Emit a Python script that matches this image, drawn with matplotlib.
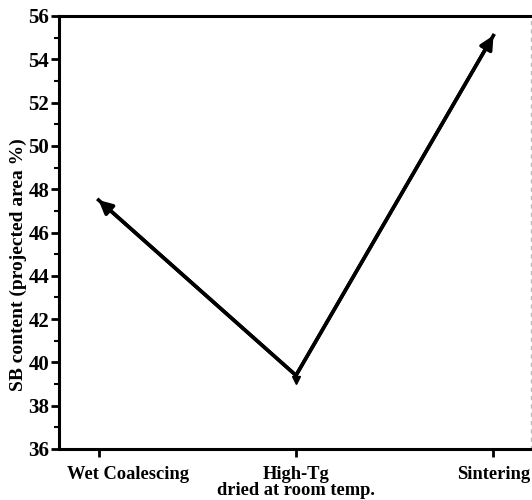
import numpy as np
import matplotlib.pyplot as plt
from matplotlib.ticker import MultipleLocator

categories = ['Wet Coalescing', 'High-Tg\ndried at room temp.', 'Sintering']
sb_content = [47.5, 39.4, 55.1]

plt.rcParams['font.family'] = ['Liberation Serif', 'DejaVu Serif']
plt.rcParams['font.weight'] = 'bold'

fig = plt.figure(figsize=(5.32, 5.0), dpi=100)
ax = fig.add_axes([0.111, 0.102, 0.887, 0.866])

x = np.arange(len(categories))
ax.plot(x, sb_content, color='black', linewidth=2.6, solid_joinstyle='miter')
# arrow heads at both ends, small tip at the middle point
for i in (0, 2):
    ax.annotate('', xy=(x[i], sb_content[i]), xytext=(x[1], sb_content[1]),
                arrowprops=dict(arrowstyle='-|>', color='black', lw=2.6,
                                mutation_scale=20, shrinkA=0, shrinkB=0))
ax.plot(x[1], sb_content[1] - 0.2, marker='v', color='black', markersize=6)

ax.set_xlim(-0.2, 2.19)
ax.set_ylim(36, 56)
ax.yaxis.set_major_locator(MultipleLocator(2))
ax.yaxis.set_minor_locator(MultipleLocator(1))
ax.set_xticks(x)
ax.set_xticklabels([''] + categories[1:], fontsize=13.3, fontweight='bold', linespacing=0.95)
# first label sits right of its tick in the original
ax.annotate(categories[0], xy=(x[0], 0), xycoords=ax.get_xaxis_transform(),
            xytext=(21, -12), textcoords='offset points', ha='center', va='top',
            fontsize=13.3, fontweight='bold')
for lab in ax.get_yticklabels():
    lab.set_fontsize(15)
    lab.set_fontweight('bold')
ax.tick_params(axis='x', which='major', direction='out', length=6, width=2, pad=6)
ax.tick_params(axis='y', which='major', direction='out', length=6, width=2, pad=1)
ax.tick_params(axis='y', which='minor', direction='out', length=3.5, width=1.5)
ax.set_ylabel('SB content (projected area %)', fontsize=14, fontweight='bold')
ax.yaxis.set_label_coords(-0.068, 0.425)

for s in ['left', 'bottom', 'top']:
    ax.spines[s].set_linewidth(2.2)
ax.spines['right'].set_color('#bbbbbb')
ax.spines['right'].set_linestyle((0, (2, 4)))
ax.spines['right'].set_linewidth(1)

fig.savefig('out.png', dpi=100)
